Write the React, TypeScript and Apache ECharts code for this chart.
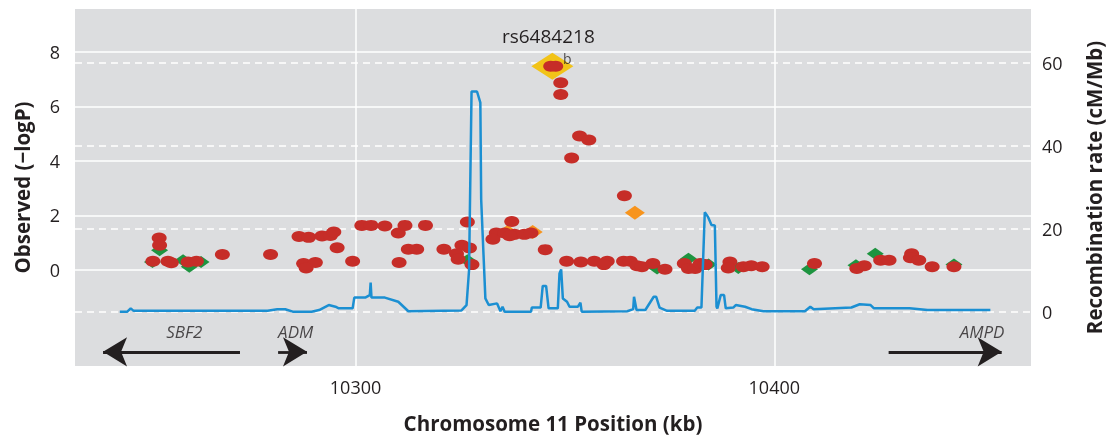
import React, { useEffect, useRef } from 'react';
import * as echarts from 'echarts';

// [position (kb), -logP]
const redSnps: number[][] = [
  [10253.1, 1.17], [10253.2, 0.9], [10251.6, 0.31], [10255.2, 0.31], [10256, 0.26], [10260, 0.29], [10262, 0.31],
  [10268.2, 0.56], [10279.7, 0.56], [10286.5, 1.22], [10288.8, 1.19], [10292, 1.24], [10294, 1.26], [10294.8, 1.39],
  [10295.6, 0.81], [10287.6, 0.23], [10290.4, 0.27], [10288.2, 0.07], [10299.3, 0.31], [10301.5, 1.63], [10303.7, 1.63],
  [10307, 1.61], [10310.2, 1.35], [10311.8, 1.63], [10316.7, 1.63], [10312.6, 0.75], [10314.6, 0.75], [10310.4, 0.27],
  [10321.1, 0.75], [10326.7, 1.75], [10325.4, 0.9], [10327.2, 0.8], [10324.1, 0.59], [10324.5, 0.39], [10327.8, 0.19],
  [10337.3, 1.77], [10333.6, 1.35], [10335.6, 1.35], [10337.9, 1.3], [10340.3, 1.3], [10341.9, 1.35], [10332.8, 1.12],
  [10336.8, 1.25], [10345.3, 0.74], [10346.6, 7.47], [10347.8, 7.47], [10349, 6.86], [10349, 6.43], [10353.5, 4.91],
  [10355.7, 4.76], [10351.6, 4.1], [10364.2, 2.72], [10350.4, 0.31], [10353.8, 0.29], [10357, 0.31], [10360.1, 0.31],
  [10364, 0.31], [10365.6, 0.31], [10359.3, 0.19], [10367.2, 0.15], [10368.4, 0.11], [10371, 0.23], [10373.9, 0.02],
  [10378.5, 0.23], [10379.5, 0.05], [10381.1, 0.05], [10382.3, 0.23], [10383.5, 0.19], [10389.4, 0.29], [10389, 0.07],
  [10392.6, 0.11], [10394.5, 0.15], [10397.1, 0.11], [10409.6, 0.23], [10419.7, 0.05], [10421.5, 0.15], [10425.4, 0.35],
  [10427.4, 0.35], [10432.8, 0.59], [10432.5, 0.44], [10434.5, 0.35], [10437.7, 0.11], [10442.9, 0.11],
];

const greenSnps: number[][] = [
  [10253.2, 0.72], [10251.5, 0.29], [10258.8, 0.35], [10260.3, 0.11], [10263.1, 0.29], [10326.7, 0.35], [10372, 0.05],
  [10379.5, 0.41], [10384.3, 0.19], [10391.4, 0.07], [10408.4, 0.02], [10419.5, 0.17], [10424.1, 0.59], [10442.9, 0.19],
];

const orangeSnps: number[][] = [[10336.3, 1.39], [10342.3, 1.39], [10366.7, 2.09]];

const leadSnp: number[][] = [[10347, 7.47]];
const leadName = 'rs6484218';
const leadNote = 'b';

// [position (kb), recombination rate (cM/Mb)]
const recombRate: number[][] = [
  [10243.7, 0], [10245.5, 0], [10246.3, 0.8], [10247, 0.2], [10260, 0.2], [10279, 0.2], [10281.3, 0.6], [10283.2, 0.6],
  [10285, 0], [10289.5, 0], [10291.3, 0.4], [10293.6, 1.6], [10295.2, 1.2], [10296, 0.8], [10299.3, 0.8], [10299.7, 3.4],
  [10302.3, 3.4], [10303.4, 4], [10303.6, 7], [10303.8, 3.4], [10307, 3.4], [10310.2, 2.4], [10312.6, 0.1], [10325.3, 0.3],
  [10326.5, 1.6], [10327.1, 10], [10327.7, 53.1], [10329, 53.1], [10329.8, 50.4], [10330, 27], [10331, 3.2],
  [10331.8, 1.6], [10333.8, 2], [10334.6, 0.1], [10335.1, 1.2], [10335.6, 0], [10341.9, 0], [10342.1, 1], [10344.2, 1],
  [10344.7, 6.2], [10345.5, 6.2], [10346.1, 0.8], [10348.3, 0.8], [10348.7, 9.2], [10349.1, 10.2], [10349.5, 3.2],
  [10350.5, 2.4], [10351.1, 1.2], [10353.1, 1.2], [10353.7, 2.2], [10354, 0], [10364.9, 0.1], [10366.3, 0.6],
  [10366.5, 3.6], [10367.1, 0.4], [10369.2, 0.4], [10371.2, 3.6], [10371.8, 3.6], [10372.6, 1], [10374.4, 0.2],
  [10381, 0.2], [10381.6, 1], [10382.6, 1], [10383.4, 24], [10384.2, 22.8], [10385, 20.9], [10385.8, 20.8],
  [10386.2, 1.2], [10386.4, 0.8], [10387.2, 4], [10388, 4], [10388.4, 0.8], [10390.2, 1], [10390.8, 1.6], [10393, 1.2],
  [10394.6, 0.6], [10397.4, 0.1], [10407.3, 0.1], [10408.6, 1.2], [10409.4, 0.6], [10418.4, 1], [10420.4, 1.8],
  [10423, 1.6], [10423.8, 0.8], [10432.3, 0.8], [10436.6, 0.4], [10451.6, 0.4],
];

// genes: name, tail (kb), tip (kb)
const geneNames = ['SBF2', 'ADM', 'AMPD'];
const geneFrom = [10272.4, 10281.5, 10427.3];
const geneTo = [10239.7, 10288.4, 10454.3];
const geneLabelX = [10259.1, 10285.7, 10449.6];
const geneArrowY = -3.01;
const geneLabelY = -2.25;

const xTicks = [10300, 10400];
const leftTicks = [0, 2, 4, 6, 8];
const rightTicks = [0, 20, 40, 60];

const FONT = '"Open Sans", "Noto Sans", sans-serif';
const INK = '#231f20';

export default function App() {
  const ref = useRef<HTMLDivElement>(null);
  useEffect(() => {
    const chart = echarts.init(ref.current!, null, { renderer: 'svg' });
    const titleStyle = { fontWeight: 'bold', fontSize: 20.5, color: INK, fontFamily: FONT };
    const option: any = {
      animation: false,
      textStyle: { fontFamily: FONT },
      grid: { left: 75, top: 9, right: 76, bottom: 70, show: true, backgroundColor: '#dcdddf', borderWidth: 0 },
      xAxis: {
        type: 'value',
        min: 10233,
        max: 10461.3,
        axisLine: { show: false },
        axisTick: { show: false, customValues: xTicks },
        axisLabel: {
          customValues: xTicks,
          formatter: (v: number) => String(v),
          color: INK,
          fontSize: 18,
          margin: 12,
          fontFamily: FONT,
        },
        splitLine: { show: true, lineStyle: { color: '#ffffff', width: 1.5 } },
        name: 'Chromosome 11 Position (kb)',
        nameLocation: 'middle',
        nameGap: 46,
        nameTextStyle: titleStyle,
      },
      yAxis: [
        {
          type: 'value',
          position: 'left',
          min: -3.53,
          max: 9.57,
          axisLine: { show: false },
          axisTick: { show: false, customValues: leftTicks },
          axisLabel: { customValues: leftTicks, color: INK, fontSize: 18, margin: 15, fontFamily: FONT },
          splitLine: { show: true, lineStyle: { color: '#ffffff', width: 1.5 } },
          name: 'Observed (−logP)',
          nameLocation: 'middle',
          nameRotate: 90,
          nameGap: 43,
          nameTextStyle: titleStyle,
        },
        {
          type: 'value',
          position: 'right',
          min: -13.1,
          max: 73,
          axisLine: { show: false },
          axisTick: { show: false, customValues: rightTicks },
          axisLabel: { customValues: rightTicks, color: INK, fontSize: 18, margin: 11, fontFamily: FONT },
          splitLine: { show: true, lineStyle: { color: '#ffffff', width: 1.5, type: [7, 5] } },
          name: 'Recombination rate (cM/Mb)',
          nameLocation: 'middle',
          nameRotate: 90,
          nameGap: 52,
          nameTextStyle: titleStyle,
        },
      ],
      series: [
        {
          type: 'line',
          yAxisIndex: 1,
          data: recombRate,
          showSymbol: false,
          symbol: 'none',
          silent: true,
          lineStyle: { color: '#1b8fd2', width: 2.5 },
        },
        {
          type: 'scatter',
          data: greenSnps,
          symbol: 'diamond',
          symbolSize: [17, 12],
          silent: true,
          itemStyle: { color: '#1e9440', opacity: 1 },
        },
        {
          type: 'scatter',
          data: orangeSnps,
          symbol: 'diamond',
          symbolSize: [20, 14],
          silent: true,
          itemStyle: { color: '#f7941d', opacity: 1 },
        },
        {
          type: 'scatter',
          data: leadSnp,
          symbol: 'diamond',
          symbolSize: [42, 27],
          silent: true,
          itemStyle: { color: '#f2c318', opacity: 1 },
          label: {
            show: true,
            position: 'top',
            distance: 7,
            offset: [-4, 0],
            formatter: leadName,
            color: INK,
            fontSize: 19,
            fontFamily: FONT,
          },
        },
        {
          type: 'scatter',
          data: redSnps,
          symbol: 'circle',
          symbolSize: [15, 11],
          silent: true,
          itemStyle: { color: '#c62d28', opacity: 1 },
        },
        {
          type: 'scatter',
          data: leadSnp,
          symbolSize: 0,
          silent: true,
          label: {
            show: true,
            position: 'inside',
            offset: [15, -8],
            formatter: leadNote,
            color: INK,
            fontSize: 14,
            fontFamily: FONT,
          },
        },
        {
          type: 'scatter',
          data: geneNames.map((n, i) => ({ name: n, value: [geneLabelX[i], geneLabelY] })),
          symbolSize: 0,
          silent: true,
          label: {
            show: true,
            position: 'inside',
            formatter: '{b}',
            color: INK,
            fontSize: 17,
            fontStyle: 'italic',
            fontFamily: FONT,
          },
          markLine: {
            silent: true,
            symbol: ['none', 'arrow'],
            symbolSize: [22, 24],
            label: { show: false },
            lineStyle: { color: INK, width: 2.8, type: 'solid' },
            emphasis: { disabled: true },
            data: geneNames.map((n, i) => [
              { coord: [geneFrom[i], geneArrowY] },
              { coord: [geneTo[i], geneArrowY] },
            ]),
          },
        },
      ],
    };
    chart.setOption(option);
    return () => chart.dispose();
  }, []);
  return <div ref={ref} style={{ position: 'fixed', left: 0, top: 0, width: 1112, height: 438 }} />;
}
